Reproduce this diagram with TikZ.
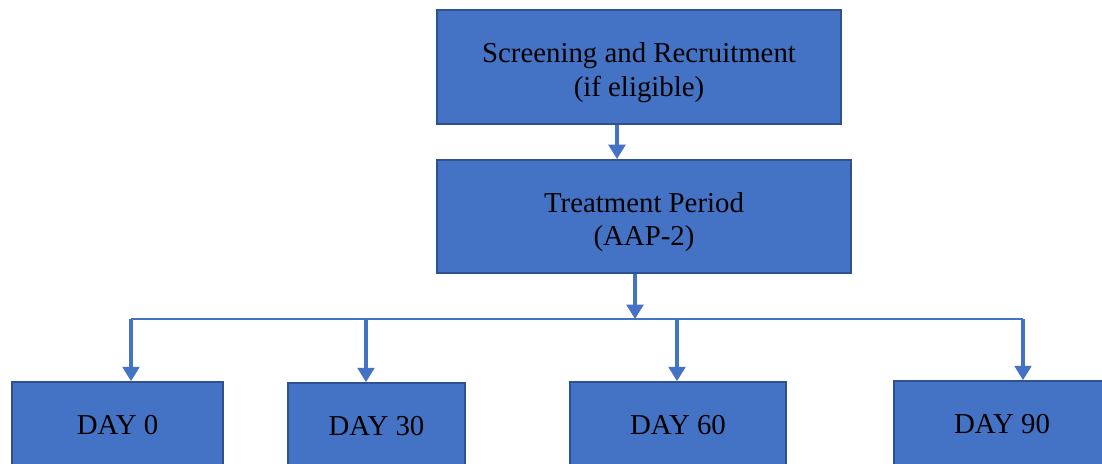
\documentclass[tikz,border=0pt]{standalone}
\usepackage{fontspec}
\setmainfont{Liberation Serif}
\usetikzlibrary{arrows.meta, positioning}

\definecolor{boxblue}{HTML}{4472C4}
\definecolor{boxedge}{HTML}{2F528F}

\begin{document}
\begin{tikzpicture}[x=0.025cm, y=-0.025cm,
    box/.style = {draw=boxedge, line width=1.2pt, fill=boxblue, align=center, inner sep=0pt,
                  font=\fontsize{20.5}{24}\selectfont},
    link/.style = {draw=boxblue, line width=2.2pt, -{Triangle[width=0.42cm, length=0.36cm]}}]
    \clip (0,0) rectangle (1102,463);
    \fill[white] (0,0) rectangle (1102,463);
    \node[box, minimum width=10.1cm, minimum height=2.85cm] (screen) at (639,67)
      {\rule{0pt}{22pt}Screening and Recruitment\\(if eligible)}; % root
    \node[box, minimum width=10.35cm, minimum height=2.83cm] (treat) at (644,216.5)
      {\rule{0pt}{22pt}Treatment Period\\(AAP-2)};
    % days
    \node[box, minimum width=5.275cm, minimum height=2.15cm] (day0) at (117.5,425) {DAY 0};
    \node[box, minimum width=4.425cm, minimum height=2.15cm] (day30) at (376.5,426) {DAY 30};
    \node[box, minimum width=5.4cm, minimum height=2.15cm] (day60) at (678,425) {DAY 60};
    \node[box, minimum width=5.4cm, minimum height=2.15cm] (day90) at (1002,424) {DAY 90};
    % bus
    \coordinate (hub) at (635,319);
    \coordinate (b0) at (131,319);
    \coordinate (b30) at (366,319);
    \coordinate (b60) at (677,319);
    \coordinate (b90) at (1023,319);
    \draw[boxblue, line width=1pt] (b0) -- (b90);
    \draw[link] (screen.south -| 617,0) -- (treat.north -| 617,0);
    \draw[link] (treat.south -| hub) -- (hub);
    \draw[link] (b0) -- (b0 |- day0.north);
    \draw[link] (b30) -- (b30 |- day30.north);
    \draw[link] (b60) -- (b60 |- day60.north);
    \draw[link] (b90) -- (b90 |- day90.north);
\end{tikzpicture}
\end{document}
